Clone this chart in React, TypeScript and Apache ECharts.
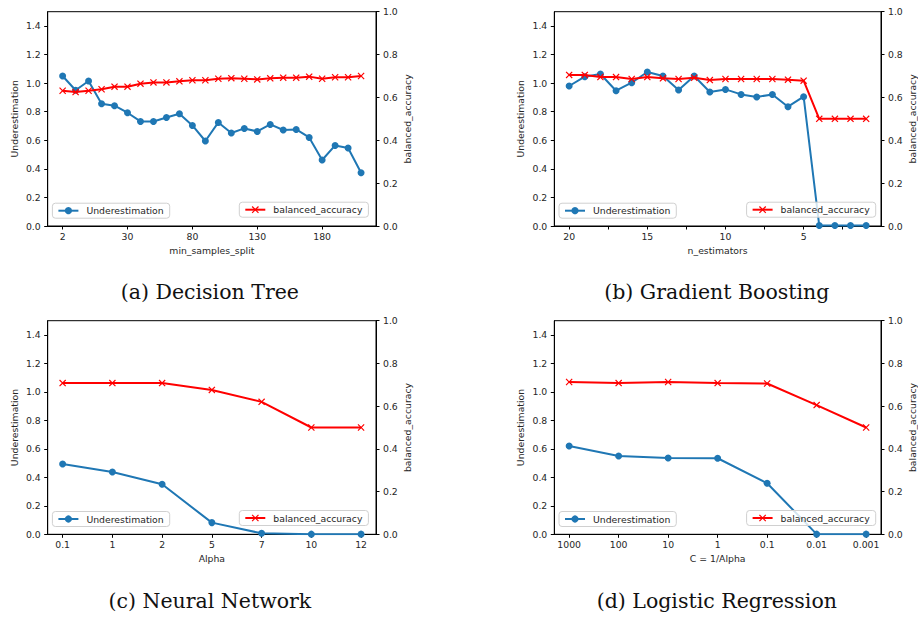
import React, { useEffect, useRef } from "react";
import * as echarts from "echarts";

// ---------- data ----------
const dtCategories = ["2", "5", "10", "15", "20", "30", "40", "50", "60", "70", "80", "90", "100", "110", "120", "130", "140", "150", "160", "170", "180", "190", "200", "210"];
const dtUnder = [1.05, 0.95, 1.015, 0.856, 0.842, 0.793, 0.732, 0.732, 0.76, 0.786, 0.704, 0.595, 0.725, 0.651, 0.683, 0.662, 0.711, 0.672, 0.676, 0.62, 0.462, 0.564, 0.546, 0.373];
const dtAcc = [0.631, 0.625, 0.631, 0.638, 0.65, 0.65, 0.664, 0.67, 0.67, 0.675, 0.68, 0.68, 0.687, 0.69, 0.687, 0.684, 0.689, 0.692, 0.692, 0.697, 0.687, 0.694, 0.694, 0.7];

const gbEstimators = [20, 19, 18, 17, 16, 15, 14, 13, 12, 11, 10, 9, 8, 7, 6, 5, 4, 3, 2, 1];
const gbUnder = [0.98, 1.045, 1.064, 0.947, 1.003, 1.078, 1.05, 0.952, 1.05, 0.938, 0.956, 0.921, 0.903, 0.921, 0.835, 0.905, 0.003, 0.003, 0.003, 0.003];
const gbAcc = [0.705, 0.705, 0.695, 0.695, 0.686, 0.695, 0.689, 0.686, 0.692, 0.681, 0.686, 0.686, 0.686, 0.686, 0.683, 0.678, 0.5, 0.5, 0.5, 0.5];
const gbTickLabels = [20, 15, 10, 5];
const gbTicks = [20, 17.5, 15, 12.5, 10, 7.5, 5, 2.5];

const nnAlpha = ["0.1", "1", "2", "5", "7", "10", "12"];
const nnUnder = [0.494, 0.438, 0.351, 0.082, 0.007, 0.001, 0.001];
const nnAcc = [0.708, 0.708, 0.708, 0.676, 0.62, 0.5, 0.5];

const lrC = ["1000", "100", "10", "1", "0.1", "0.01", "0.001"];
const lrUnder = [0.62, 0.55, 0.536, 0.534, 0.358, 0.001, 0.001];
const lrAcc = [0.713, 0.708, 0.713, 0.708, 0.706, 0.605, 0.5];

const leftTicks = [0, 0.2, 0.4, 0.6, 0.8, 1.0, 1.2, 1.4];
const rightTicks = [0, 0.2, 0.4, 0.6, 0.8, 1.0];

const captions = ["(a) Decision Tree", "(b) Gradient Boosting", "(c) Neural Network", "(d) Logistic Regression"];
const xNames = ["min_samples_split", "n_estimators", "Alpha", "C = 1/Alpha"];

const BLUE = "#1f77b4";
const RED = "#ff0000";
const FONT = "DejaVu Sans";
const FS = 9.3;
const XSYM = "path://M0,1.2L1.2,0L5,3.8L8.8,0L10,1.2L6.2,5L10,8.8L8.8,10L5,6.2L1.2,10L0,8.8L3.8,5Z";

const grids = [
  { left: 47.7, top: 11.7, width: 328.3, height: 214.3 },
  { left: 554.3, top: 11.7, width: 329, height: 214.3 },
  { left: 47.7, top: 320.7, width: 328.3, height: 213.6 },
  { left: 554.3, top: 320.7, width: 329, height: 213.6 },
];

function buildOption() {
  const xAxes: any[] = [];
  const yAxes: any[] = [];
  const series: any[] = [];
  const legends: any[] = [];
  const graphics: any[] = [];

  const axisCommon = {
    axisLine: { show: true, onZero: false, lineStyle: { color: "#000", width: 1 } },
    axisTick: { show: true, inside: false, length: 3.5, lineStyle: { color: "#000", width: 1 } },
    splitLine: { show: false },
    axisLabel: { color: "#262626", fontFamily: FONT, fontSize: FS },
    nameTextStyle: { color: "#262626", fontFamily: FONT, fontSize: FS },
  };

  const panels = [
    {
      x: {
        min: -1.15, max: 24.15,
        labels: [0, 5, 10, 15, 20], ticks: [0, 5, 10, 15, 20],
        fmt: (v: number) => dtCategories[Math.round(v)] ?? "",
        inverse: false,
      },
      under: dtUnder.map((v, i) => [i, v]),
      acc: dtAcc.map((v, i) => [i, v]),
    },
    {
      x: {
        min: 0.05, max: 20.95,
        labels: gbTickLabels, ticks: gbTicks,
        fmt: (v: number) => String(v),
        inverse: true,
      },
      under: gbUnder.map((v, i) => [gbEstimators[i], v]),
      acc: gbAcc.map((v, i) => [gbEstimators[i], v]),
    },
    {
      x: {
        min: -0.3, max: 6.3,
        labels: [0, 1, 2, 3, 4, 5, 6], ticks: [0, 1, 2, 3, 4, 5, 6],
        fmt: (v: number) => nnAlpha[Math.round(v)] ?? "",
        inverse: false,
      },
      under: nnUnder.map((v, i) => [i, v]),
      acc: nnAcc.map((v, i) => [i, v]),
    },
    {
      x: {
        min: -0.3, max: 6.3,
        labels: [0, 1, 2, 3, 4, 5, 6], ticks: [0, 1, 2, 3, 4, 5, 6],
        fmt: (v: number) => lrC[Math.round(v)] ?? "",
        inverse: false,
      },
      under: lrUnder.map((v, i) => [i, v]),
      acc: lrAcc.map((v, i) => [i, v]),
    },
  ];

  panels.forEach((p, k) => {
    const g = grids[k];
    xAxes.push({
      type: "value",
      gridIndex: k,
      min: p.x.min,
      max: p.x.max,
      inverse: p.x.inverse,
      name: xNames[k],
      nameLocation: "middle",
      nameGap: 20,
      ...axisCommon,
      axisTick: { ...axisCommon.axisTick, customValues: p.x.ticks },
      axisLabel: { ...axisCommon.axisLabel, margin: 6, customValues: p.x.labels, formatter: p.x.fmt },
    });
    yAxes.push({
      type: "value",
      gridIndex: k,
      position: "left",
      min: 0,
      max: 1.5,
      name: "Underestimation",
      nameLocation: "middle",
      nameRotate: 90,
      nameGap: 29,
      ...axisCommon,
      axisTick: { ...axisCommon.axisTick, customValues: leftTicks },
      axisLabel: { ...axisCommon.axisLabel, margin: 7, customValues: leftTicks, formatter: (v: number) => v.toFixed(1) },
    });
    yAxes.push({
      type: "value",
      gridIndex: k,
      position: "right",
      min: 0,
      max: 1,
      name: "balanced_accuracy",
      nameLocation: "middle",
      nameRotate: 90,
      nameGap: 27,
      ...axisCommon,
      axisTick: { ...axisCommon.axisTick, customValues: rightTicks },
      axisLabel: { ...axisCommon.axisLabel, margin: 7, customValues: rightTicks, formatter: (v: number) => v.toFixed(1) },
    });
    series.push({
      type: "line",
      name: "Underestimation",
      xAxisIndex: k,
      yAxisIndex: 2 * k,
      data: p.under,
      symbol: "circle",
      symbolSize: 7,
      showAllSymbol: true,
      color: BLUE,
      itemStyle: { color: BLUE },
      lineStyle: { color: BLUE, width: 2 },
      z: 2,
    });
    series.push({
      type: "line",
      name: "balanced_accuracy",
      xAxisIndex: k,
      yAxisIndex: 2 * k + 1,
      data: p.acc,
      symbol: XSYM,
      symbolSize: 7,
      showAllSymbol: true,
      color: RED,
      itemStyle: { color: RED },
      lineStyle: { color: RED, width: 2 },
      z: 3,
    });
    const legendCommon = {
      orient: "horizontal",
      itemWidth: 20,
      itemHeight: 9,
      itemGap: 4,
      padding: [3, 6, 3, 5],
      borderColor: "#d0d0d0",
      borderWidth: 1,
      borderRadius: 3,
      backgroundColor: "rgba(255,255,255,0.8)",
      textStyle: { color: "#262626", fontFamily: FONT, fontSize: FS, padding: [0, 0, 0, 3] },
      selectedMode: false,
    };
    const bottomY = g.top + g.height;
    legends.push({
      ...legendCommon,
      data: ["Underestimation"],
      left: g.left + 4.7,
      top: bottomY - 22.8,
    });
    legends.push({
      ...legendCommon,
      data: ["balanced_accuracy"],
      left: g.left + g.width - 5.3 - 131.4,
      top: bottomY - 23.8,
    });
    graphics.push({
      type: "text",
      x: g.left + g.width / 2 - 2,
      y: k < 2 ? 292 : 601,
      style: {
        text: captions[k],
        fill: "#111",
        fontFamily: "DejaVu Serif",
        fontSize: 20.5,
        textAlign: "center",
        textVerticalAlign: "middle",
      },
    });
  });

  return {
    animation: false,
    backgroundColor: "#fff",
    grid: grids.map((g) => ({ ...g, show: true, borderColor: "#000", borderWidth: 1, backgroundColor: "transparent", containLabel: false })),
    xAxis: xAxes,
    yAxis: yAxes,
    series,
    legend: legends,
    graphic: graphics,
  };
}

export default function App() {
  const ref = useRef<HTMLDivElement>(null);
  useEffect(() => {
    if (!ref.current) return;
    const chart = echarts.init(ref.current, undefined, { renderer: "svg" });
    chart.setOption(buildOption() as any);
    return () => chart.dispose();
  }, []);
  return (
    <div
      ref={ref}
      style={{ position: "absolute", left: 0, top: 0, width: 918, height: 618, background: "#fff" }}
    />
  );
}
